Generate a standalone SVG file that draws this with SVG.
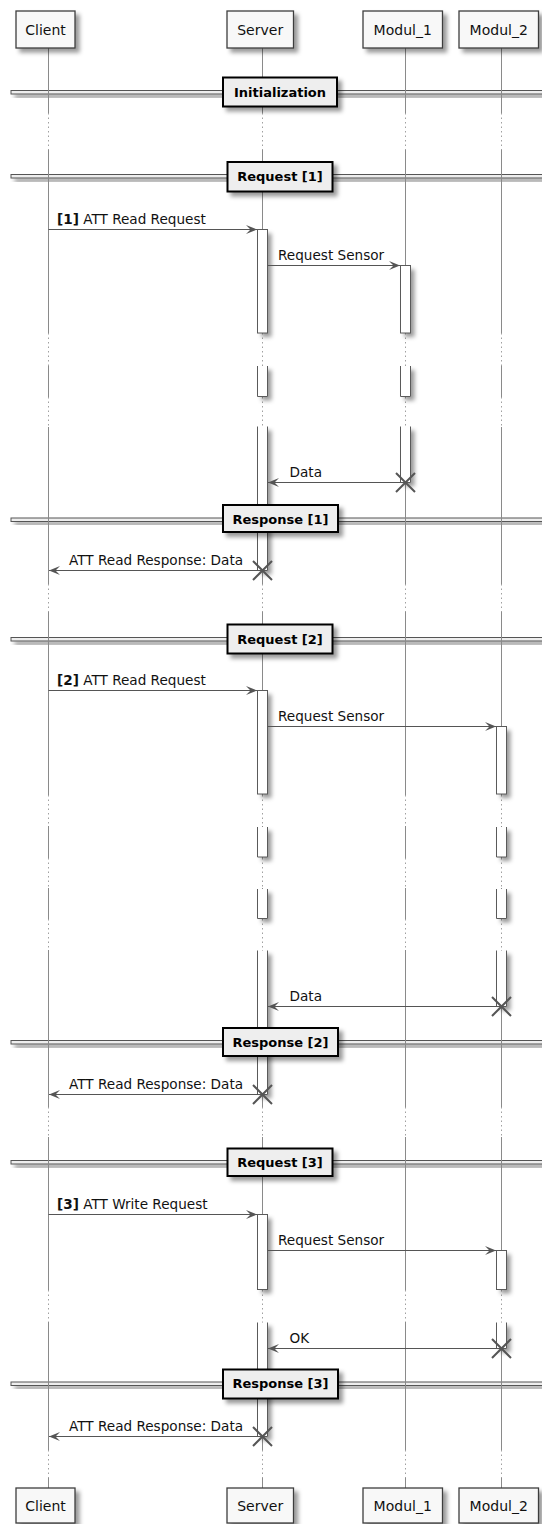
<svg xmlns="http://www.w3.org/2000/svg" xmlns:xlink="http://www.w3.org/1999/xlink" width="542" height="1524" viewBox="0 0 542 1524">
<style>
text{font-family:"DejaVu Sans","Liberation Sans",sans-serif;fill:#111}
.pt{font-size:14px;text-anchor:middle}
.msg{font-size:13.6px}
.dv{font-size:13px;font-weight:bold;text-anchor:middle;fill:#000}
.pbox{fill:#F8F8F8;stroke:#3d3d3d;stroke-width:1.3}
.life{fill:none;stroke:#8a8a8a;stroke-width:1}
.dot{fill:none;stroke:#a0a0a0;stroke-width:1;stroke-dasharray:1.5,3}
.act{fill:#fff;stroke:none}
.actb{fill:none;stroke:#5a5a5a;stroke-width:1}
.arr{fill:none;stroke:#555;stroke-width:1}
.xm{fill:none;stroke:#555;stroke-width:2}
.dline{fill:#EEEEEE;stroke:#555;stroke-width:1}
.dbox{fill:#EEEEEE;stroke:#000;stroke-width:2}
</style>
<defs>
<filter id="sh" x="-1" y="-1" width="300%" height="300%">
<feGaussianBlur result="b" stdDeviation="2"/>
<feColorMatrix in="b" result="b2" type="matrix" values="0 0 0 0 0 0 0 0 0 0 0 0 0 0 0 0 0 0 .4 0"/>
<feOffset dx="4" dy="4" in="b2" result="b3"/>
<feBlend in="SourceGraphic" in2="b3" mode="normal"/>
</filter>
<marker id="ah" markerWidth="11" markerHeight="9" refX="11" refY="4.5" orient="auto" markerUnits="userSpaceOnUse">
<path d="M0,0 L11,4.5 L0,9 L4.5,4.5 Z" fill="#555"/>
</marker>
<path id="xx" d="M-9.5,-9.5 L9.5,9.5 M-9.5,9.5 L9.5,-9.5"/>
</defs>
<rect width="542" height="1524" fill="#fff"/>

<!-- divider lines -->
<g id="divider-lines">
<rect class="dline" x="11" y="90.5" width="540" height="3.5" filter="url(#sh)"/>
<rect class="dline" x="11" y="174.5" width="540" height="3.5" filter="url(#sh)"/>
<rect class="dline" x="11" y="518" width="540" height="3.5" filter="url(#sh)"/>
<rect class="dline" x="11" y="637.5" width="540" height="3.5" filter="url(#sh)"/>
<rect class="dline" x="11" y="1040.5" width="540" height="3.5" filter="url(#sh)"/>
<rect class="dline" x="11" y="1160.5" width="540" height="3.5" filter="url(#sh)"/>
<rect class="dline" x="11" y="1382" width="540" height="3.5" filter="url(#sh)"/>
</g>

<!-- lifelines -->
<g id="lifelines">
<path class="life" d="M48.5,48V113M48.5,150V333M48.5,366V397M48.5,427V584M48.5,612V795M48.5,826V858M48.5,888V919M48.5,950V1107M48.5,1137V1290M48.5,1322V1450M48.5,1478V1488"/>
<path class="dot" d="M48.5,113V150M48.5,333V366M48.5,397V427M48.5,584V612M48.5,795V826M48.5,858V888M48.5,919V950M48.5,1107V1137M48.5,1290V1322M48.5,1450V1478"/>
<path class="life" d="M262.5,48V113M262.5,150V333M262.5,366V397M262.5,427V584M262.5,612V795M262.5,826V858M262.5,888V919M262.5,950V1107M262.5,1137V1290M262.5,1322V1450M262.5,1478V1488"/>
<path class="dot" d="M262.5,113V150M262.5,333V366M262.5,397V427M262.5,584V612M262.5,795V826M262.5,858V888M262.5,919V950M262.5,1107V1137M262.5,1290V1322M262.5,1450V1478"/>
<path class="life" d="M405.5,48V113M405.5,150V333M405.5,366V397M405.5,427V584M405.5,612V795M405.5,826V858M405.5,888V919M405.5,950V1107M405.5,1137V1290M405.5,1322V1450M405.5,1478V1488"/>
<path class="dot" d="M405.5,113V150M405.5,333V366M405.5,397V427M405.5,584V612M405.5,795V826M405.5,858V888M405.5,919V950M405.5,1107V1137M405.5,1290V1322M405.5,1450V1478"/>
<path class="life" d="M501.5,48V113M501.5,150V333M501.5,366V397M501.5,427V584M501.5,612V795M501.5,826V858M501.5,888V919M501.5,950V1107M501.5,1137V1290M501.5,1322V1450M501.5,1478V1488"/>
<path class="dot" d="M501.5,113V150M501.5,333V366M501.5,397V427M501.5,584V612M501.5,795V826M501.5,858V888M501.5,919V950M501.5,1107V1137M501.5,1290V1322M501.5,1450V1478"/>
</g>

<!-- activations -->
<g id="activations">
<!-- Server section 1 -->
<rect class="act" x="257.5" y="229.5" width="10" height="103.5" filter="url(#sh)"/>
<rect class="actb" x="257.5" y="229.5" width="10" height="103.5"/>
<rect class="act" x="257.5" y="366" width="10" height="30.5" filter="url(#sh)"/>
<path class="actb" d="M257.5,366V396.5H267.5V366"/>
<rect class="act" x="257.5" y="426.5" width="10" height="144" filter="url(#sh)"/>
<path class="actb" d="M257.5,426.5V570.5H267.5V426.5"/>
<!-- Modul_1 section 1 -->
<rect class="act" x="400.5" y="265.5" width="10" height="67.5" filter="url(#sh)"/>
<rect class="actb" x="400.5" y="265.5" width="10" height="67.5"/>
<rect class="act" x="400.5" y="366" width="10" height="30.5" filter="url(#sh)"/>
<path class="actb" d="M400.5,366V396.5H410.5V366"/>
<rect class="act" x="400.5" y="426.5" width="10" height="56" filter="url(#sh)"/>
<path class="actb" d="M400.5,426.5V482.5H410.5V426.5"/>
<!-- Server section 2 -->
<rect class="act" x="257.5" y="690.5" width="10" height="103.5" filter="url(#sh)"/>
<rect class="actb" x="257.5" y="690.5" width="10" height="103.5"/>
<rect class="act" x="257.5" y="827" width="10" height="30" filter="url(#sh)"/>
<path class="actb" d="M257.5,827V857H267.5V827"/>
<rect class="act" x="257.5" y="889" width="10" height="29.5" filter="url(#sh)"/>
<path class="actb" d="M257.5,889V918.5H267.5V889"/>
<rect class="act" x="257.5" y="950.5" width="10" height="144" filter="url(#sh)"/>
<path class="actb" d="M257.5,950.5V1094.5H267.5V950.5"/>
<!-- Modul_2 section 2 -->
<rect class="act" x="496.5" y="726.5" width="10" height="67.5" filter="url(#sh)"/>
<rect class="actb" x="496.5" y="726.5" width="10" height="67.5"/>
<rect class="act" x="496.5" y="827" width="10" height="30" filter="url(#sh)"/>
<path class="actb" d="M496.5,827V857H506.5V827"/>
<rect class="act" x="496.5" y="889" width="10" height="29.5" filter="url(#sh)"/>
<path class="actb" d="M496.5,889V918.5H506.5V889"/>
<rect class="act" x="496.5" y="950.5" width="10" height="56" filter="url(#sh)"/>
<path class="actb" d="M496.5,950.5V1006.5H506.5V950.5"/>
<!-- Server section 3 -->
<rect class="act" x="257.5" y="1214.5" width="10" height="75" filter="url(#sh)"/>
<rect class="actb" x="257.5" y="1214.5" width="10" height="75"/>
<rect class="act" x="257.5" y="1322.5" width="10" height="114" filter="url(#sh)"/>
<path class="actb" d="M257.5,1322.5V1436.5H267.5V1322.5"/>
<!-- Modul_2 section 3 -->
<rect class="act" x="496.5" y="1250.5" width="10" height="39" filter="url(#sh)"/>
<rect class="actb" x="496.5" y="1250.5" width="10" height="39"/>
<rect class="act" x="496.5" y="1322.5" width="10" height="26" filter="url(#sh)"/>
<path class="actb" d="M496.5,1322.5V1348.5H506.5V1322.5"/>
</g>

<!-- connectors -->
<g id="connectors">
<line class="arr" x1="48.5" y1="229.5" x2="257" y2="229.5" marker-end="url(#ah)"/>
<text class="msg" x="57" y="224"><tspan font-weight="bold">[1]</tspan> ATT Read Request</text>
<line class="arr" x1="267.5" y1="265.5" x2="400" y2="265.5" marker-end="url(#ah)"/>
<text class="msg" x="278" y="260">Request Sensor</text>
<line class="arr" x1="405.5" y1="482.5" x2="268" y2="482.5" marker-end="url(#ah)"/>
<text class="msg" x="289.5" y="477">Data</text>
<line class="arr" x1="262.5" y1="570.5" x2="49" y2="570.5" marker-end="url(#ah)"/>
<text class="msg" x="69" y="565">ATT Read Response: Data</text>

<line class="arr" x1="48.5" y1="690.5" x2="257" y2="690.5" marker-end="url(#ah)"/>
<text class="msg" x="57" y="685"><tspan font-weight="bold">[2]</tspan> ATT Read Request</text>
<line class="arr" x1="267.5" y1="726.5" x2="496" y2="726.5" marker-end="url(#ah)"/>
<text class="msg" x="278" y="721">Request Sensor</text>
<line class="arr" x1="501.5" y1="1006.5" x2="268" y2="1006.5" marker-end="url(#ah)"/>
<text class="msg" x="289.5" y="1001">Data</text>
<line class="arr" x1="262.5" y1="1094.5" x2="49" y2="1094.5" marker-end="url(#ah)"/>
<text class="msg" x="69" y="1089">ATT Read Response: Data</text>

<line class="arr" x1="48.5" y1="1214.5" x2="257" y2="1214.5" marker-end="url(#ah)"/>
<text class="msg" x="57" y="1209"><tspan font-weight="bold">[3]</tspan> ATT Write Request</text>
<line class="arr" x1="267.5" y1="1250.5" x2="496" y2="1250.5" marker-end="url(#ah)"/>
<text class="msg" x="278" y="1245">Request Sensor</text>
<line class="arr" x1="501.5" y1="1348.5" x2="268" y2="1348.5" marker-end="url(#ah)"/>
<text class="msg" x="289.5" y="1343">OK</text>
<line class="arr" x1="262.5" y1="1436.5" x2="49" y2="1436.5" marker-end="url(#ah)"/>
<text class="msg" x="69" y="1431">ATT Read Response: Data</text>

<use xlink:href="#xx" class="xm" x="405.5" y="482.5"/>
<use xlink:href="#xx" class="xm" x="262.5" y="570.5"/>
<use xlink:href="#xx" class="xm" x="501.5" y="1006.5"/>
<use xlink:href="#xx" class="xm" x="262.5" y="1094.5"/>
<use xlink:href="#xx" class="xm" x="501.5" y="1348.5"/>
<use xlink:href="#xx" class="xm" x="262.5" y="1436.5"/>
</g>

<!-- dividers -->
<g id="div-init"><rect class="dbox" x="223" y="77.5" width="114" height="29" filter="url(#sh)"/><text class="dv" x="280" y="96.5">Initialization</text></g>
<g id="div-req1"><rect class="dbox" x="227.5" y="162" width="105" height="29.5" filter="url(#sh)"/><text class="dv" x="280" y="180.5">Request [1]</text></g>
<g id="div-resp1"><rect class="dbox" x="223" y="505" width="115" height="27" filter="url(#sh)"/><text class="dv" x="280.5" y="524">Response [1]</text></g>
<g id="div-req2"><rect class="dbox" x="227.5" y="624.5" width="105" height="29" filter="url(#sh)"/><text class="dv" x="280" y="643.5">Request [2]</text></g>
<g id="div-resp2"><rect class="dbox" x="223" y="1028" width="115" height="28" filter="url(#sh)"/><text class="dv" x="280.5" y="1046.5">Response [2]</text></g>
<g id="div-req3"><rect class="dbox" x="227.5" y="1148.5" width="105" height="27.5" filter="url(#sh)"/><text class="dv" x="280" y="1166.5">Request [3]</text></g>
<g id="div-resp3"><rect class="dbox" x="223" y="1369.5" width="115" height="29" filter="url(#sh)"/><text class="dv" x="280.5" y="1388">Response [3]</text></g>

<!-- participants -->
<g id="client-top"><rect class="pbox" x="16" y="11" width="59" height="37" filter="url(#sh)"/><text class="pt" x="45.5" y="35">Client</text></g>
<g id="server-top"><rect class="pbox" x="227" y="11" width="66.5" height="37" filter="url(#sh)"/><text class="pt" x="260.2" y="35">Server</text></g>
<g id="modul1-top"><rect class="pbox" x="363" y="11" width="79.5" height="37" filter="url(#sh)"/><text class="pt" x="402.7" y="35">Modul_1</text></g>
<g id="modul2-top"><rect class="pbox" x="459" y="11" width="79.5" height="37" filter="url(#sh)"/><text class="pt" x="498.7" y="35">Modul_2</text></g>

<g id="client-bottom"><rect class="pbox" x="16" y="1488" width="59" height="35" filter="url(#sh)"/><text class="pt" x="45.5" y="1511">Client</text></g>
<g id="server-bottom"><rect class="pbox" x="227" y="1488" width="66.5" height="35" filter="url(#sh)"/><text class="pt" x="260.2" y="1511">Server</text></g>
<g id="modul1-bottom"><rect class="pbox" x="363" y="1488" width="79.5" height="35" filter="url(#sh)"/><text class="pt" x="402.7" y="1511">Modul_1</text></g>
<g id="modul2-bottom"><rect class="pbox" x="459" y="1488" width="79.5" height="35" filter="url(#sh)"/><text class="pt" x="498.7" y="1511">Modul_2</text></g>
</svg>
